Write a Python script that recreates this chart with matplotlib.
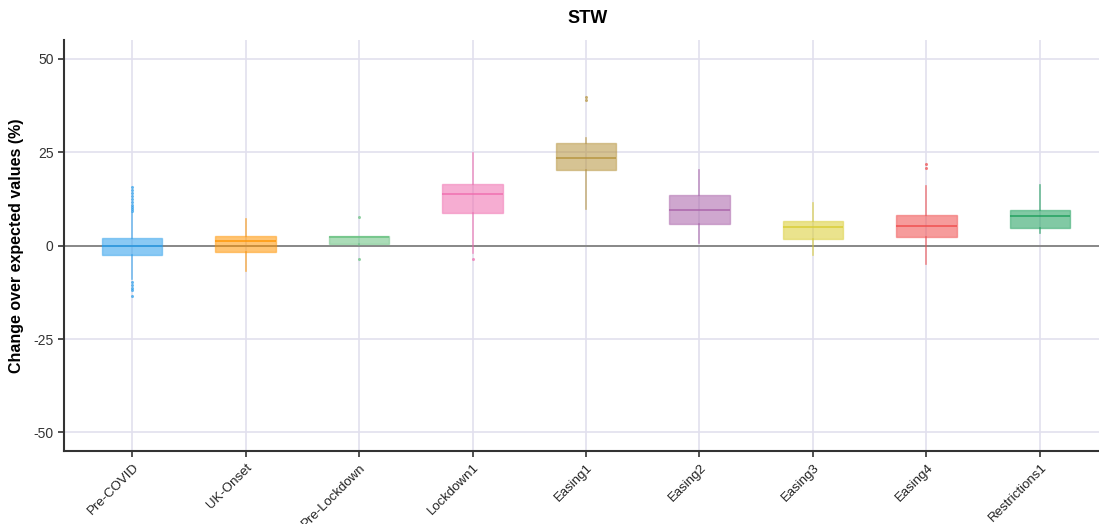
import matplotlib
matplotlib.use("Agg")
import matplotlib.pyplot as plt
import matplotlib.transforms as mtransforms
from matplotlib.colors import to_rgba

plt.rcParams['font.family'] = ['Liberation Sans', 'DejaVu Sans']

# period summaries (% change over expected)
periods = ["Pre-COVID", "UK-Onset", "Pre-Lockdown", "Lockdown1", "Easing1",
           "Easing2", "Easing3", "Easing4", "Restrictions1"]
medians = [0.0, 1.3, 2.4, 13.7, 23.5, 9.5, 5.0, 5.3, 8.0]
q1s = [-2.6, -1.6, 0.5, 8.7, 20.3, 5.8, 1.7, 2.4, 4.7]
q3s = [2.1, 2.7, 2.6, 16.5, 27.5, 13.6, 6.7, 8.1, 9.6]
whis_lo = [-9.0, -6.7, 0.3, -1.9, 9.8, 0.7, -2.4, -4.9, 3.4]
whis_hi = [8.8, 7.0, 2.6, 24.8, 28.8, 20.3, 11.4, 16.0, 16.3]
outliers = [
    [9.2, 9.8, 10.3, 11.0, 11.8, 12.5, 13.3, 14.2, 15.0, 15.8,
     -9.6, -10.4, -11.2, -12.0, -13.6],
    [],
    [7.6, -3.5],
    [-3.7],
    [39.0, 39.9],
    [],
    [],
    [20.8, 21.9],
    [],
]
colors = ["#2B9EEB", "#FF9400", "#66C07F", "#F06BAE", "#B5923A",
          "#A860A8", "#D9CC30", "#F04A4A", "#1A9E5A"]

fig = plt.figure(figsize=(10.99, 5.24), dpi=100)
ax = fig.add_axes([0.0582, 0.139, 0.95, 0.7844])

grid_col = "#E2E0EE"
ax.set_axisbelow(True)
ax.grid(True, color=grid_col, linewidth=1.2)
ax.axhline(0, color="#888888", linewidth=1.4, zorder=1.5)

for i, name in enumerate(periods):
    stats = [dict(med=medians[i], q1=q1s[i], q3=q3s[i], whislo=whis_lo[i],
                  whishi=whis_hi[i], fliers=outliers[i], label=name)]
    c = colors[i]
    ax.bxp(stats, positions=[i], widths=0.53, patch_artist=True,
           showcaps=False,
           boxprops=dict(facecolor=to_rgba(c, 0.55), edgecolor=to_rgba(c, 0.45),
                         linewidth=1.0),
           medianprops=dict(color=to_rgba(c, 0.85), linewidth=1.2),
           whiskerprops=dict(color=to_rgba(c, 0.6), linewidth=1.2),
           flierprops=dict(marker="o", markersize=2.2, markerfacecolor=to_rgba(c, 0.7),
                           markeredgecolor="none"))

ax.set_xlim(-0.6, 8.6)
ax.set_ylim(-55, 55)
ax.set_xticks(range(len(periods)))
ax.set_yticks([-50, -25, 0, 25, 50])
ax.set_yticklabels(["-50", "-25", "0", "25", "50"], fontsize=10, color="#333333")
ax.tick_params(axis="both", length=4, color="#333333", width=1.2)

ax.set_xticklabels(periods, rotation=45, ha="right", fontsize=9.5, color="#222222")
# nudge the slanted labels so their ends sit just right of the ticks
shift = mtransforms.ScaledTranslation(9 / 100, 0, fig.dpi_scale_trans)
for lab in ax.get_xticklabels():
    lab.set_transform(lab.get_transform() + shift)

for side in ["top", "right"]:
    ax.spines[side].set_visible(False)
for side in ["left", "bottom"]:
    ax.spines[side].set_color("#333333")
    ax.spines[side].set_linewidth(1.5)

ax.set_ylabel("Change over expected values (%)", fontsize=11.5, fontweight="bold",
              labelpad=7)
fig.text(0.535, 0.965, "STW", ha="center", va="center", fontsize=13,
         fontweight="bold")

fig.savefig("out.png", dpi=100)
